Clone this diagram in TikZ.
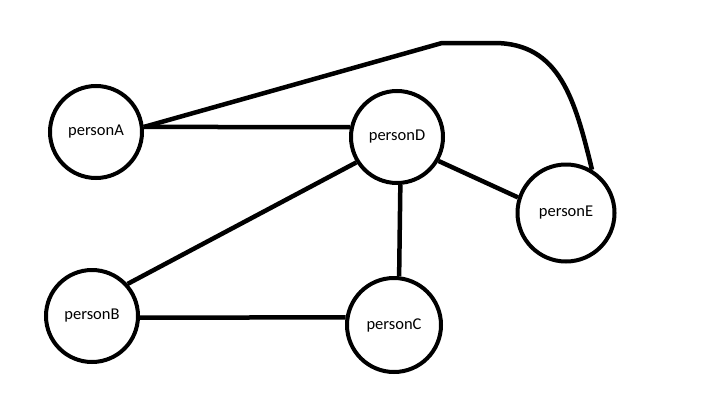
\documentclass[tikz,border=0pt]{standalone}
\usepackage{fontspec}
\setmainfont{Carlito}
\usetikzlibrary{shapes}
\tikzstyle{person} = [draw, circle, line width=4pt, minimum size=92pt, inner sep=0pt, font=\fontsize{16.5}{18}\selectfont]
\tikzstyle{link} = [line width=4.5pt]

\begin{document}
\begin{tikzpicture}[x=1pt, y=-1pt]
    \useasboundingbox (0,0) rectangle (711,415);
    % Drawing persons
    \node [person] (personA) at (96,132) {personA};
    \node [person] (personD) at (397,137) {personD};
    \node [person, minimum size=97pt] (personE) at (566,213) {personE};
    \node [person] (personB) at (92,316) {personB};
    \node [person, minimum size=94pt] (personC) at (394,325) {personC};
    \coordinate (bendA) at (442,43);
    \coordinate (bendB) at (494,43);

    % Connectors
    \draw [link] (personA.6) -- (personD.168);
    \draw [link, line join=round] (personA.6) -- (bendA) -- (bendB)
        .. controls (560,43) and (575,100) .. (personE.59);
    \draw [link] (personD.-30) -- (personE.162);
    \draw [link] (personD.-86) -- (personC.84);
    \draw [link] (personD.212) -- (personB.42);
    \draw [link] (personB.-2) -- (personC.171);
\end{tikzpicture}
\end{document}
